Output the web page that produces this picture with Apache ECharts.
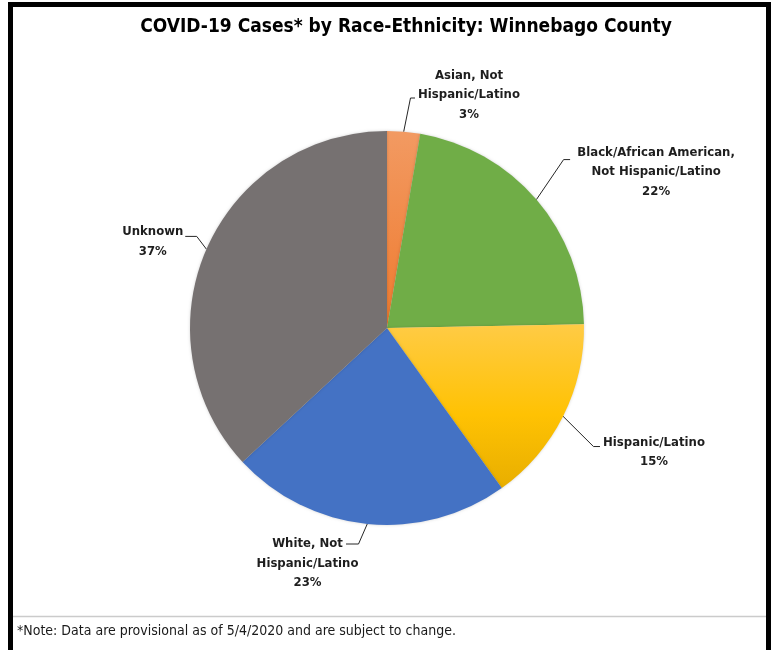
<!DOCTYPE html>
<html>
<head>
<meta charset="utf-8">
<script src="https://cdn.jsdelivr.net/npm/echarts@6/dist/echarts.min.js"></script>
<style>
html,body{margin:0;padding:0;background:#fff;}
#chart{width:775px;height:650px;}
</style>
</head>
<body>
<div id="chart"></div>
<script>
// ---- data ----
var categories = [
  'Asian, Not\nHispanic/Latino',
  'Black/African American,\nNot Hispanic/Latino',
  'Hispanic/Latino',
  'White, Not\nHispanic/Latino',
  'Unknown'
];
var shares = [2.7, 22.0, 15.4, 23.0, 36.9];
var titleText = 'COVID-19 Cases* by Race-Ethnicity: Winnebago County';
var noteText = '*Note: Data are provisional as of 5/4/2020 and are subject to change.';

// ---- styles / layout ----
var FONT = '"Liberation Sans Narrow","DejaVu Sans Condensed","Noto Sans",sans-serif';
var sliceColors = [
  {type:'linear',x:0,y:0,x2:0,y2:1,colorStops:[{offset:0,color:'#F29A62'},{offset:1,color:'#EF7A2E'}]},
  '#70AD47',
  {type:'linear',x:0,y:0,x2:0,y2:1,colorStops:[{offset:0,color:'#FFCB45'},{offset:0.55,color:'#FFC203'},{offset:1,color:'#E8AE00'}]},
  '#4472C4',
  '#767171'
];
// label placement relative to the leader start point (dx,dy of elbow, horizontal tail, label centre)
var labelPlacement = [
  {ex: 6.8,  ey:-33.7, tail: 4.5,  lx: 65.3,  ly:-36.7},
  {ex: 27.2, ey:-40,   tail: 6.5,  lx: 119.7, ly:-27.5},
  {ex: 30.4, ey: 30.2, tail: 6.5,  lx: 90.9,  ly: 35.7},
  {ex:-8.7,  ey: 20,   tail:-12.5, lx:-59.7,  ly: 39.5},
  {ex:-9.7,  ey:-12.8, tail:-11.5, lx:-53.7,  ly:-7.5}
];

var data = categories.map(function (c, i) {
  return {name: c, value: shares[i], itemStyle: {color: sliceColors[i]}};
});

var chart = echarts.init(document.getElementById('chart'), null, {renderer: 'canvas'});
chart.setOption({
  animation: false,
  backgroundColor: '#ffffff',
  graphic: [
    {type:'rect', shape:{x:10.5, y:4.5, width:758, height:700}, style:{fill:null, stroke:'#000', lineWidth:5}, z:100},
    {type:'line', shape:{x1:13, y1:616.5, x2:766, y2:616.5}, style:{stroke:'#CBCBCB', lineWidth:1.5}, z:100},
    {type:'text', x:406, y:27, style:{text:titleText, font:'bold 19px ' + FONT, fill:'#000', textAlign:'center', textVerticalAlign:'middle'}, z:100},
    {type:'text', x:17, y:631, style:{text:noteText, font:'14px ' + FONT, fill:'#1a1a1a', textAlign:'left', textVerticalAlign:'middle'}, z:100}
  ],
  series: [{
    type: 'pie',
    center: [387, 328],
    radius: 197,
    startAngle: 90,
    clockwise: true,
    avoidLabelOverlap: false,
    percentPrecision: 0,
    itemStyle: {shadowBlur: 3, shadowColor: 'rgba(0,0,0,0.18)'},
    emphasis: {disabled: true},
    label: {
      show: true,
      position: 'outside',
      formatter: '{b}\n{d}%',
      fontFamily: FONT,
      fontWeight: 'bold',
      fontSize: 13,
      lineHeight: 19.5,
      color: '#1e1e1e',
      align: 'center'
    },
    labelLine: {show: true, lineStyle: {color: '#262626', width: 1}},
    labelLayout: function (params) {
      var p = labelPlacement[params.dataIndex];
      var p0 = params.labelLinePoints[0];
      var elbow = [p0[0] + p.ex, p0[1] + p.ey];
      var end = [elbow[0] + p.tail, elbow[1]];
      return {
        x: p0[0] + p.lx,
        y: p0[1] + p.ly,
        align: 'center',
        verticalAlign: 'middle',
        labelLinePoints: [p0, elbow, end]
      };
    },
    data: data
  }]
});
</script>
</body>
</html>
